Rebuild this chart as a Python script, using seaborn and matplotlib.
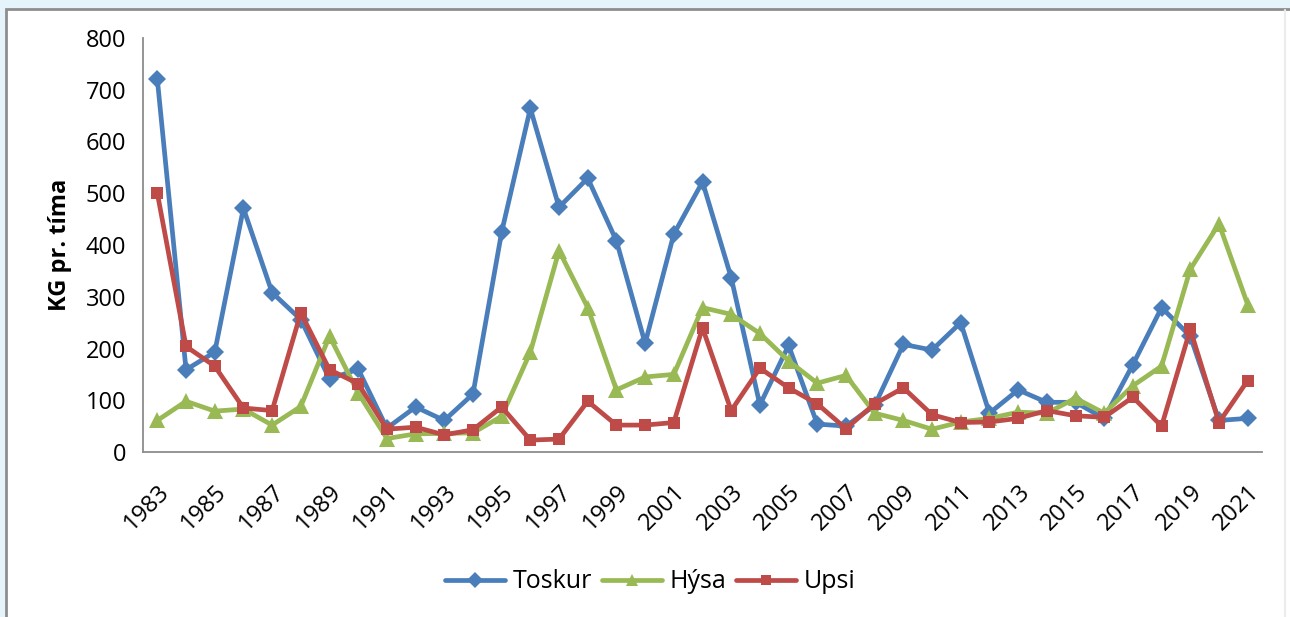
import numpy as np
import pandas as pd
import seaborn as sns
import matplotlib.pyplot as plt
from matplotlib.patches import Rectangle

years = list(range(1983, 2022))
toskur = [720, 159, 193, 471, 308, 256, 141, 160, 46, 87, 61, 112, 425, 664, 473, 529,
          408, 210, 421, 522, 337, 91, 206, 54, 50, 90, 208, 197, 250, 75, 120, 96, 96,
          65, 169, 279, 224, 61, 65]
hysa = [61, 98, 79, 83, 52, 88, 224, 114, 26, 35, 36, 37, 69, 193, 389, 279,
        120, 145, 150, 279, 266, 229, 176, 133, 148, 75, 61, 44, 58, 65, 77, 75, 104,
        75, 128, 166, 353, 441, 285]
upsi = [500, 204, 166, 85, 80, 269, 159, 132, 44, 48, 33, 43, 87, 23, 25, 98,
        52, 52, 57, 240, 80, 162, 124, 93, 45, 93, 124, 72, 57, 58, 65, 80, 70,
        67, 106, 50, 237, 57, 138]

series = {"Toskur": toskur, "Hýsa": hysa, "Upsi": upsi}
colors = {"Toskur": "#4a7ebb", "Hýsa": "#98b954", "Upsi": "#be4b48"}
markers = {"Toskur": "D", "Hýsa": "^", "Upsi": "s"}
msizes = {"Toskur": 9.5, "Hýsa": 11, "Upsi": 9}

df = pd.DataFrame({"year": years, **series})
long = df.melt(id_vars="year", var_name="serie", value_name="kg")

sns.set_style("white")
plt.rcParams["font.family"] = ["Open Sans", "DejaVu Sans"]
plt.rcParams["text.color"] = "black"
plt.rcParams["xtick.color"] = "black"
plt.rcParams["ytick.color"] = "black"
plt.rcParams["axes.labelcolor"] = "black"

fig = plt.figure(figsize=(12.9, 6.17), dpi=100)
fig.patch.set_facecolor("#e5f3fb")
# white panel with gray frame
fig.patches.append(Rectangle((6 / 1290, -0.05), 1.05, 1.05 - 9 / 617,
                             transform=fig.transFigure, facecolor="white",
                             edgecolor="#8e8e8e", linewidth=2, zorder=-5))
fig.add_artist(plt.Line2D([1285 / 1290, 1285 / 1290], [0, 1 - 10 / 617],
                          transform=fig.transFigure, color="#ececec", lw=1.5))

ax = fig.add_axes([143 / 1290, 1 - 452 / 617, (1262 - 143) / 1290, (452 - 38) / 617])
ax.set_facecolor("white")

for name in series:
    sub = long[long["serie"] == name]
    sns.lineplot(data=sub, x="year", y="kg", ax=ax, color=colors[name],
                 marker=markers[name], markersize=msizes[name], markeredgewidth=0,
                 linewidth=3.4, label=name, legend=False)

ax.set_xlim(1982.5, 2021.5)
ax.set_ylim(0, 800)
ax.set_yticks(range(0, 801, 100))
ax.set_xticks(years[::2])
ax.set_xticklabels([str(y) for y in years[::2]], rotation=45, ha="right",
                   va="top", rotation_mode="anchor")
ax.tick_params(axis="both", length=0, labelsize=17)
ax.tick_params(axis="y", pad=12)
ax.tick_params(axis="x", pad=20)
ax.set_xlabel("")
ax.set_ylabel("KG pr. tíma", fontsize=17, fontweight="bold", labelpad=10)

sns.despine(ax=ax)
for s in ["left", "bottom"]:
    ax.spines[s].set_color("#8c8c8c")
    ax.spines[s].set_linewidth(1.3)

handles, labels = ax.get_legend_handles_labels()
fig.legend(handles, labels, loc="center", bbox_to_anchor=(650 / 1290, 1 - 582 / 617),
           ncol=3, frameon=False, fontsize=18, handlelength=2.4, handletextpad=0.3,
           columnspacing=0.4, markerscale=0.85)

fig.savefig("out.png", dpi=100, facecolor=fig.get_facecolor())
